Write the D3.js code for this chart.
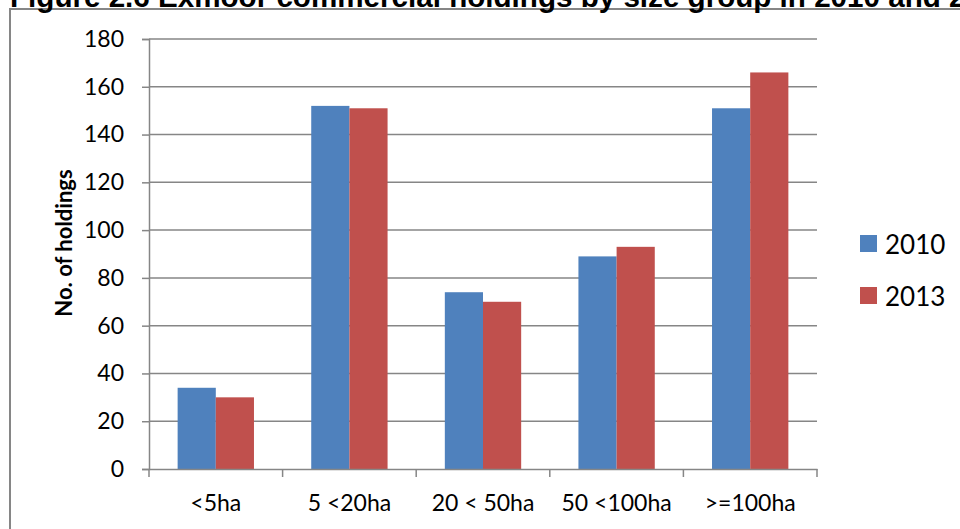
<!DOCTYPE html>
<html>
<head>
<meta charset="utf-8">
<script src="https://cdn.jsdelivr.net/npm/d3@7/dist/d3.min.js"></script>
<style>
  html, body { margin: 0; padding: 0; background: #ffffff; overflow: hidden; }
  svg { display: block; }
</style>
</head>
<body>
<svg id="chart" width="960" height="529"></svg>
<script>
const title = "Figure 2.6 Exmoor commercial holdings by size group in 2010 and 2013";
const categories = ["<5ha", "5 <20ha", "20 < 50ha", "50 <100ha", ">=100ha"];
const seriesNames = ["2010", "2013"];
const values2010 = [34, 152, 74, 89, 151];
const values2013 = [30, 151, 70, 93, 166];
const yTicks = [0, 20, 40, 60, 80, 100, 120, 140, 160, 180];
const colors = ["#4F81BD", "#C0504D"];
const yAxisTitle = "No. of holdings";

const series = [values2010, values2013];

const svg = d3.select("#chart");
const axisColor = "#868686";
const labelFont = "Lato, 'Open Sans', sans-serif";

// outer chart border (extends beyond the visible area at right/bottom)
svg.append("rect")
  .attr("x", 10).attr("y", 9)
  .attr("width", 1000).attr("height", 600)
  .attr("fill", "none")
  .attr("stroke", axisColor)
  .attr("stroke-width", 2);

// title (cropped at top)
svg.append("text")
  .attr("x", 10).attr("y", 6.5)
  .attr("font-family", "'Liberation Sans', Arial, sans-serif")
  .attr("font-weight", "bold")
  .attr("font-size", 29.6)
  .attr("fill", "#000")
  .text(title);

const x = d3.scaleBand().domain(categories).range([149, 817]).paddingInner(0).paddingOuter(0);
const y = d3.scaleLinear().domain([0, 180]).range([469, 39]);

// gridlines
svg.append("g")
  .selectAll("line")
  .data(yTicks.filter(t => t > 0))
  .join("line")
  .attr("x1", 149).attr("x2", 817)
  .attr("y1", d => y(d)).attr("y2", d => y(d))
  .attr("stroke", axisColor)
  .attr("stroke-width", 1.5);

// bars
const barW = x.bandwidth() / 3.5;
const gBars = svg.append("g");
series.forEach((vals, si) => {
  gBars.append("g")
    .selectAll("rect")
    .data(categories.map((c, i) => ({ c, v: vals[i] })))
    .join("rect")
    .attr("x", d => x(d.c) + x.bandwidth() / 2 - barW + si * barW)
    .attr("y", d => y(d.v))
    .attr("width", barW)
    .attr("height", d => y(0) - y(d.v))
    .attr("fill", colors[si]);
});

// y axis
const yAxis = d3.axisLeft(y).tickValues(yTicks).tickSize(7).tickPadding(18).tickFormat(d3.format("d"));
const gy = svg.append("g").attr("transform", "translate(149,0)").call(yAxis);
gy.select(".domain").attr("stroke", axisColor).attr("stroke-width", 1.5);
gy.selectAll(".tick line").attr("stroke", axisColor).attr("stroke-width", 1.5);
gy.selectAll(".tick text")
  .attr("font-family", labelFont)
  .attr("font-size", 23)
  .attr("fill", "#000");

// x axis
const xAxis = d3.axisBottom(x).tickSize(0).tickPadding(0);
const gx = svg.append("g").attr("transform", "translate(0,469)").call(xAxis);
gx.select(".domain").attr("stroke", axisColor).attr("stroke-width", 1.5);
gx.selectAll(".tick text")
  .attr("font-family", labelFont)
  .attr("font-size", 23)
  .attr("fill", "#000")
  .attr("dy", null)
  .attr("y", 42);
// category boundary ticks
const bounds = categories.map(c => x(c)).concat([x.range()[1]]);
gx.append("g").selectAll("line")
  .data(bounds)
  .join("line")
  .attr("x1", d => d).attr("x2", d => d)
  .attr("y1", 0).attr("y2", 8)
  .attr("stroke", axisColor)
  .attr("stroke-width", 1.5);

// y axis title
svg.append("text")
  .attr("transform", "translate(63,243) rotate(-90)")
  .attr("text-anchor", "middle")
  .attr("dominant-baseline", "central")
  .attr("font-family", labelFont)
  .attr("font-weight", "bold")
  .attr("font-size", 22)
  .attr("fill", "#000")
  .text(yAxisTitle);

// legend
const legend = svg.append("g");
seriesNames.forEach((name, i) => {
  const cy = 243.5 + i * 52;
  legend.append("rect")
    .attr("x", 860).attr("y", cy - 8.5)
    .attr("width", 17).attr("height", 17)
    .attr("fill", colors[i]);
  legend.append("text")
    .attr("x", 885).attr("y", cy)
    .attr("dominant-baseline", "central")
    .attr("font-family", labelFont)
    .attr("font-size", 26)
    .attr("fill", "#000")
    .text(name);
});
</script>
</body>
</html>
